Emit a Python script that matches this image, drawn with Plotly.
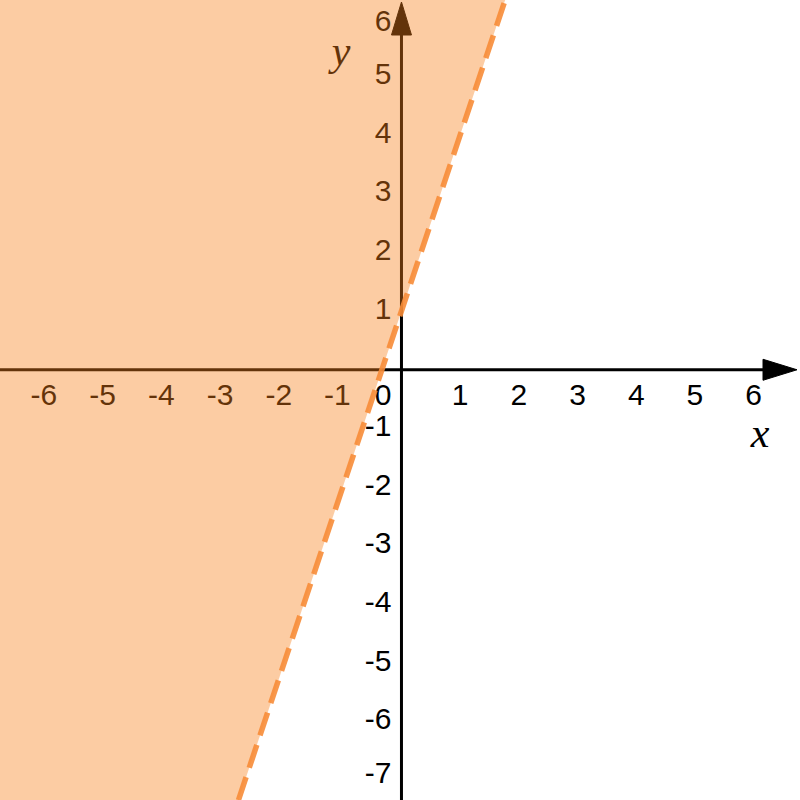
import plotly.graph_objects as go

# ---- data ----
x_range = [-6.84, 6.79]
y_range = [-7.33, 6.30]
x_ticks = [-6, -5, -4, -3, -2, -1, 1, 2, 3, 4, 5, 6]
y_ticks = [-7, -6, -5, -4, -3, -2, -1, 1, 2, 3, 4, 5, 6]
slope = 3.0        # boundary line y = 3x + 1 (dashed: strict inequality)
intercept = 1.0

W = H = 800
ppx = W / (x_range[1] - x_range[0])   # pixels per x unit
ppy = H / (y_range[1] - y_range[0])   # pixels per y unit

def px2x(p): return p / ppx
def px2y(p): return p / ppy

FONT = "Liberation Sans, Arial, sans-serif"
FS = 30

fig = go.Figure()

# axes lines
ax_x_end = x_range[1] - px2x(37)
ax_y_end = y_range[1] - px2y(35)
fig.add_trace(go.Scatter(x=[x_range[0], ax_x_end], y=[0, 0], mode="lines",
                         line=dict(color="black", width=3), hoverinfo="skip"))
fig.add_trace(go.Scatter(x=[0, 0], y=[y_range[0], ax_y_end], mode="lines",
                         line=dict(color="black", width=3), hoverinfo="skip"))

# arrowheads
tipx = x_range[1] - px2x(3)
basex = tipx - px2x(34)
hh = px2y(10.5)
fig.add_trace(go.Scatter(x=[basex, tipx, basex, basex], y=[hh, 0, -hh, hh], mode="lines",
                         fill="toself", fillcolor="black", line=dict(color="black", width=1),
                         hoverinfo="skip"))
tipy = y_range[1] - px2y(2)
basey = tipy - px2y(33)
hw = px2x(10)
fig.add_trace(go.Scatter(x=[-hw, 0, hw, -hw], y=[basey, tipy, basey, basey], mode="lines",
                         fill="toself", fillcolor="black", line=dict(color="black", width=1),
                         hoverinfo="skip"))

# x tick labels
lab_y = -px2y(28)
neg = [v for v in x_ticks if v < 0]
pos = [v for v in x_ticks if v > 0]
fig.add_trace(go.Scatter(x=[v + px2x(8) for v in neg], y=[lab_y] * len(neg), mode="text",
                         text=[str(v) for v in neg], textposition="middle left", cliponaxis=False,
                         textfont=dict(family=FONT, size=FS, color="black"), hoverinfo="skip"))
fig.add_trace(go.Scatter(x=pos, y=[lab_y] * len(pos), mode="text",
                         text=[str(v) for v in pos], textposition="middle center", cliponaxis=False,
                         textfont=dict(family=FONT, size=FS, color="black"), hoverinfo="skip"))
# y tick labels (+ origin), kept inside the view near the edges
lab_x = -px2x(10)
y_lab_pos = [min(max(v, y_range[0] + px2y(25)), y_range[1] - px2y(23)) for v in y_ticks]
fig.add_trace(go.Scatter(x=[lab_x] * (len(y_ticks) + 1), y=y_lab_pos + [lab_y], mode="text",
                         text=[str(v) for v in y_ticks] + ["0"], textposition="middle left",
                         cliponaxis=False,
                         textfont=dict(family=FONT, size=FS, color="black"), hoverinfo="skip"))

# axis names
fig.add_trace(go.Scatter(x=[px2x(760 - 401.5), px2x(341 - 401.5)], y=[-px2y(67), px2y(370 - 55)],
                         mode="text", text=["<i>x</i>", "<i>y</i>"], textposition="middle center",
                         cliponaxis=False,
                         textfont=dict(family="Liberation Serif, Times New Roman, serif", size=42,
                                       color="black"), hoverinfo="skip"))

# shaded region y > 3x + 1
xb = (y_range[0] - intercept) / slope
xt = (y_range[1] - intercept) / slope
fig.add_trace(go.Scatter(x=[x_range[0], xb, xt, x_range[0], x_range[0]],
                         y=[y_range[0], y_range[0], y_range[1], y_range[1], y_range[0]],
                         mode="lines", fill="toself", fillcolor="rgba(248,128,24,0.4)",
                         line=dict(width=0), hoverinfo="skip"))

# dashed boundary
fig.add_trace(go.Scatter(x=[xb, xt], y=[y_range[0], y_range[1]], mode="lines",
                         line=dict(color="rgba(247,140,55,0.9)", width=5.5, dash="24px,10px"),
                         hoverinfo="skip"))

fig.update_layout(width=W, height=H, margin=dict(l=0, r=0, t=0, b=0),
                  showlegend=False, plot_bgcolor="white", paper_bgcolor="white",
                  xaxis=dict(range=x_range, visible=False, fixedrange=True),
                  yaxis=dict(range=y_range, visible=False, fixedrange=True))

fig.write_html("out.html", config={"displayModeBar": False},
               post_script="document.body.style.margin='0';document.body.style.padding='0';")
